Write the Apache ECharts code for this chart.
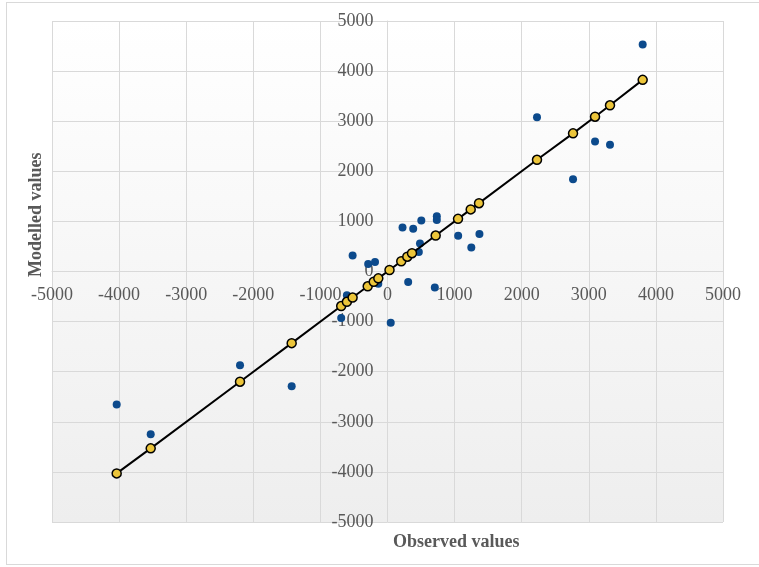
<!DOCTYPE html>
<html>
<head>
<meta charset="utf-8">
<script src="https://cdn.jsdelivr.net/npm/echarts@6/dist/echarts.min.js"></script>
<style>
html,body{margin:0;padding:0;background:#fff;}
#frame{position:absolute;left:6px;top:2px;width:800px;height:563px;border:1px solid #d9d9d9;box-sizing:border-box;}
#chart{position:absolute;left:0;top:0;width:759px;height:567px;}
</style>
</head>
<body>
<div id="frame"></div>
<div id="chart"></div>
<script>
// Observed vs modelled values (blue points)
const observed = [-4036, -3529, -2198, -1428, -690, -605, -520, -288, -186, -137, 48, 224, 308, 383, 467, 484, 504, 705, 735, 735, 1053, 1249, 1370, 2228, 2765, 3093, 3316, 3803];
const modelled = [-2657, -3250, -1870, -2290, -930, -475, 320, 152, 190, -245, -1023, 877, -208, 855, 387, 560, 1017, -317, 1105, 1030, 713, 477, 747, 3077, 1843, 2597, 2530, 4530];
// 1:1 line points (yellow markers)
const lineX = [-4036, -3529, -2198, -1428, -690, -605, -520, -295, -205, -137, 30, 205, 295, 365, 718, 1051, 1240, 1364, 2228, 2765, 3093, 3316, 3803];
const lineY = [-4030, -3530, -2200, -1430, -690, -605, -520, -295, -205, -137, 30, 205, 295, 365, 718, 1051, 1240, 1364, 2230, 2757, 3090, 3317, 3825];
const xTicks = [-5000, 5000, 1000];
const yTicks = [-5000, 5000, 1000];

const blueData = observed.map((x, i) => [x, modelled[i]]);
const lineData = lineX.map((x, i) => [x, lineY[i]]);

const W = 759, H = 567;
const G = {left: 52, right: 36, top: 21, bottom: 45};
const gridW = W - G.left - G.right;
const gridH = H - G.top - G.bottom;

const chart = echarts.init(document.getElementById('chart'), null, {renderer: 'canvas'});
const labelStyle = {fontFamily: 'Liberation Serif', fontSize: 18, color: '#595959', formatter: v => String(v)};
const gridLine = {show: true, lineStyle: {color: '#d9d9d9', width: 1}};
chart.setOption({
  animation: false,
  backgroundColor: 'transparent',
  grid: {
    left: G.left, right: G.right, top: G.top, bottom: G.bottom,
    show: true, borderWidth: 0,
    backgroundColor: new echarts.graphic.LinearGradient(0, 0, 0, 1, [
      {offset: 0, color: '#ffffff'},
      {offset: 1, color: '#eeeeee'}
    ])
  },
  xAxis: {
    type: 'value', min: xTicks[0], max: xTicks[1], interval: xTicks[2],
    position: 'bottom', offset: -gridH / 2,
    axisLine: {show: true, onZero: false, lineStyle: {color: '#d9d9d9'}},
    axisTick: {show: false},
    axisLabel: Object.assign({margin: 15}, labelStyle),
    splitLine: gridLine
  },
  yAxis: {
    type: 'value', min: yTicks[0], max: yTicks[1], interval: yTicks[2],
    position: 'left', offset: -gridW / 2,
    axisLine: {show: true, onZero: false, lineStyle: {color: '#d9d9d9'}},
    axisTick: {show: false},
    axisLabel: Object.assign({margin: 14}, labelStyle),
    splitLine: gridLine
  },
  graphic: [
    {type: 'text', left: 393, top: 533, style: {text: 'Observed values', font: 'bold 18px "Liberation Serif"', fill: '#595959'}},
    {type: 'text', x: 27, y: 277, rotation: Math.PI / 2, style: {text: 'Modelled values', font: 'bold 18px "Liberation Serif"', fill: '#595959'}}
  ],
  series: [
    {
      type: 'scatter', data: blueData, symbolSize: 8, z: 3,
      itemStyle: {color: '#0c4a8c', opacity: 1}
    },
    {
      type: 'line', data: lineData, symbol: 'circle', symbolSize: 9, z: 4,
      lineStyle: {color: '#000000', width: 2},
      itemStyle: {color: '#ecc53a', borderColor: '#000000', borderWidth: 1.5, opacity: 1}
    }
  ]
});
</script>
</body>
</html>
